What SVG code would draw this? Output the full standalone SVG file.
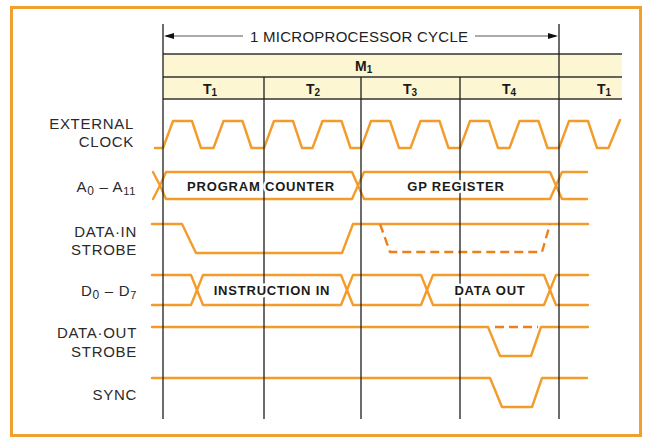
<svg xmlns="http://www.w3.org/2000/svg" width="647" height="438" viewBox="0 0 647 438">
<defs>
<style>
.sig{fill:none;stroke:#f39b2b;stroke-width:2.4;stroke-linejoin:round;stroke-linecap:round}
.dash{fill:none;stroke:#f07f1a;stroke-width:2.4;stroke-dasharray:9 5}
.grid{fill:none;stroke:#1e1e1e;stroke-width:1.3}
.hl{fill:none;stroke:#333;stroke-width:1.5}
.lbl{font-family:"Liberation Sans",Arial,sans-serif;font-size:15px;letter-spacing:0.7px;fill:#2a2a2a;text-anchor:end}
.bus{font-family:"Liberation Sans",Arial,sans-serif;font-size:13px;font-weight:bold;letter-spacing:0.8px;fill:#1a1a1a;text-anchor:middle;stroke:#fff;stroke-width:5px;paint-order:stroke;stroke-linejoin:round}
.hd{font-family:"Liberation Sans",Arial,sans-serif;font-size:14px;font-weight:bold;fill:#1a1a1a}
.sub{font-size:10px}
</style>
</defs>
<rect width="647" height="438" fill="#fff"/>
<rect x="11.5" y="7.5" width="629" height="428" fill="#fff" stroke="#f1a02e" stroke-width="3"/>

<g id="header">
<rect x="163" y="54" width="459" height="45" fill="#fcf6d2"/>
<line class="hl" x1="163" y1="54" x2="622" y2="54"/>
<line class="hl" x1="163" y1="77" x2="622" y2="77"/>
<line class="hl" x1="163" y1="99" x2="622" y2="99"/>
<line x1="166" y1="36" x2="243" y2="36" stroke="#555" stroke-width="1"/>
<line x1="475" y1="36" x2="556" y2="36" stroke="#555" stroke-width="1"/>
<polygon points="164,36 174,33 174,39" fill="#111"/>
<polygon points="558,36 548,33 548,39" fill="#111"/>
<text x="250" y="42" textLength="218" lengthAdjust="spacing" style="font-family:'Liberation Sans',Arial,sans-serif;font-size:15px;fill:#222">1 MICROPROCESSOR CYCLE</text>
<text class="hd" x="355" y="71">M<tspan class="sub" dy="2">1</tspan></text>
<text class="hd" x="203" y="94">T<tspan class="sub" dy="2">1</tspan></text>
<text class="hd" x="306" y="94">T<tspan class="sub" dy="2">2</tspan></text>
<text class="hd" x="403" y="94">T<tspan class="sub" dy="2">3</tspan></text>
<text class="hd" x="502" y="94">T<tspan class="sub" dy="2">4</tspan></text>
<text class="hd" x="597" y="94">T<tspan class="sub" dy="2">1</tspan></text>
</g>

<g id="labels">
<text class="lbl" x="134" y="129">EXTERNAL</text>
<text class="lbl" x="134" y="147">CLOCK</text>
<text class="lbl" x="136" y="192">A<tspan font-size="12" dy="3">0</tspan><tspan dy="-3"> – A</tspan><tspan font-size="11" dy="3">11</tspan></text>
<text class="lbl" x="137" y="237">DATA·IN</text>
<text class="lbl" x="137" y="255">STROBE</text>
<text class="lbl" x="137" y="296">D<tspan font-size="12" dy="3">0</tspan><tspan dy="-3"> – D</tspan><tspan font-size="11" dy="3">7</tspan></text>
<text class="lbl" x="137" y="338">DATA·OUT</text>
<text class="lbl" x="137" y="357">STROBE</text>
<text class="lbl" x="137" y="400">SYNC</text>
</g>

<g id="signals">
<path id="clock" class="sig" d="M155,148 L163,148 L173,121 L192,121 L201,148 L213.5,148 L223.5,121 L242.5,121 L251.5,148 L264,148 L274,121 L293,121 L302,148 L312.5,148 L322.5,121 L341.5,121 L350.5,148 L361,148 L371,121 L390,121 L399,148 L410.5,148 L420.5,121 L439.5,121 L448.5,148 L460,148 L470,121 L489,121 L498,148 L509.5,148 L519.5,121 L538.5,121 L547.5,148 L559,148 L569,121 L588,121 L597,148 L608.5,148 L620,120"/>
<g id="address-bus">
<path class="sig" d="M153,172 L160,185.5 L153,199"/>
<path class="sig" d="M160,185.5 L166,172 L352,172 L358,185.5 L352,199 L166,199 Z"/>
<path class="sig" d="M358,185.5 L364,172 L550,172 L556,185.5 L550,199 L364,199 Z"/>
<path class="sig" d="M587,172 L562,172 L556,185.5 L562,199 L587,199"/>
</g>
<path id="data-in-strobe" class="sig" d="M152,224 L182,224 L196,253 L342,253 L353,224 L588,224"/>
<path class="dash" d="M380,224 L390,252 L542,252 L550,224"/>
<g id="data-bus">
<path class="sig" d="M152,275 L191,275 L197,290 L191,305 L152,305"/>
<path class="sig" d="M197,290 L203,275 L341,275 L347,290 L341,305 L203,305 Z"/>
<path class="sig" d="M347,290 L353,275 L421,275 L427,290 L421,305 L353,305 Z"/>
<path class="sig" d="M427,290 L433,275 L544,275 L550,290 L544,305 L433,305 Z"/>
<path class="sig" d="M588,275 L556,275 L550,290 L556,305 L588,305"/>
</g>
<path id="data-out-strobe" class="sig" d="M152,327 L488,327 L500,356 L531,356 L541,327 L588,327"/>
<path class="dash" d="M495,327 L538,327"/>
<path id="sync" class="sig" d="M152,378 L490,378 L502,407 L532,407 L542,378 L587,378"/>
</g>

<g id="grid">
<line class="grid" x1="163" y1="24" x2="163" y2="419"/>
<line class="grid" x1="264" y1="77" x2="264" y2="419"/>
<line class="grid" x1="361" y1="77" x2="361" y2="419"/>
<line class="grid" x1="460" y1="77" x2="460" y2="419"/>
<line class="grid" x1="559" y1="24" x2="559" y2="419"/>
</g>

<g id="bus-labels">
<text class="bus" x="261" y="191">PROGRAM COUNTER</text>
<text class="bus" x="456" y="191">GP REGISTER</text>
<text class="bus" x="272" y="295">INSTRUCTION IN</text>
<text class="bus" x="490" y="295">DATA OUT</text>
</g>
</svg>
